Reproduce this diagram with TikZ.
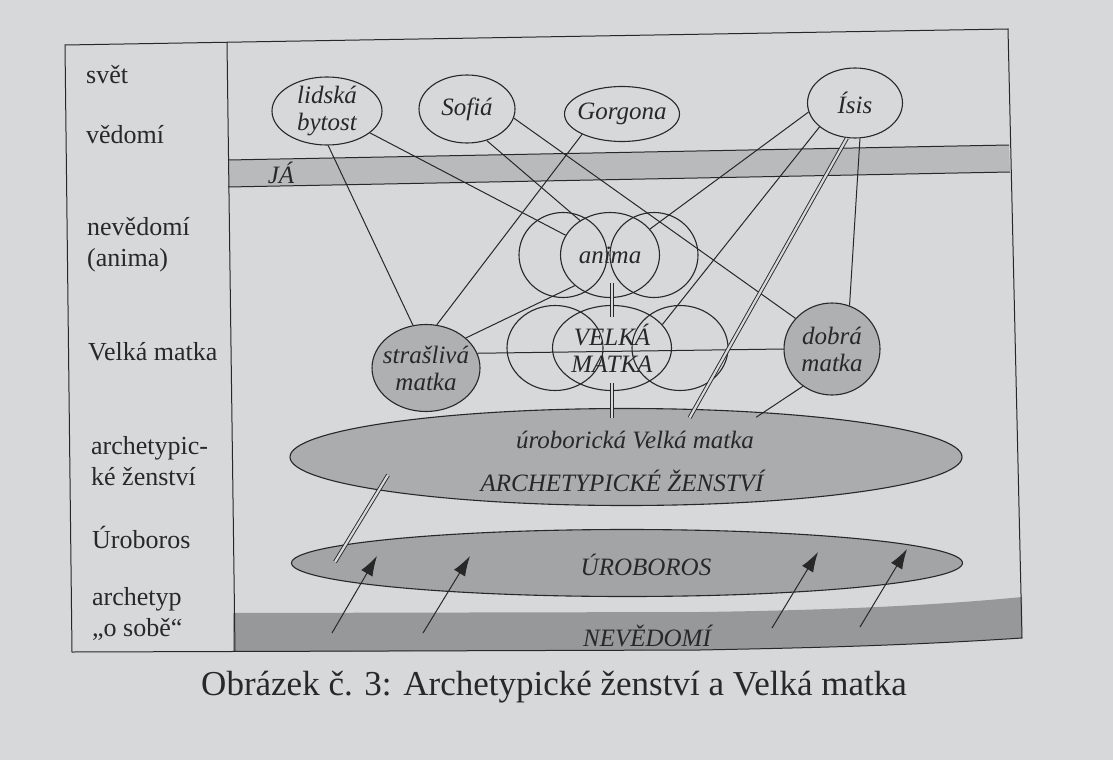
\documentclass[tikz,border=0pt]{standalone}
\usepackage{fontspec}
\setmainfont{Liberation Serif}
\usepackage{tikz}
\usetikzlibrary{shapes.geometric}
\usetikzlibrary{arrows.meta}
\definecolor{paper}{RGB}{214,216,217}
\definecolor{ink}{RGB}{40,40,40}
\definecolor{jaband}{RGB}{184,186,187}
\definecolor{mother}{RGB}{174,176,177}
\definecolor{archfill}{RGB}{170,172,173}
\definecolor{urofill}{RGB}{162,164,165}
\definecolor{deepfill}{RGB}{150,152,153}
\tikzstyle{every node}=[inner sep=0pt, text=ink]
\tikzstyle{ell}=[ellipse, draw=ink, line width=1.1pt]
\tikzstyle{side}=[anchor=west, align=left, font=\fontsize{26}{31}\selectfont]
\tikzstyle{lab}=[align=center, font=\fontsize{25}{27}\selectfont\itshape]
\tikzstyle{conn}=[draw=ink, line width=1pt]
\tikzstyle{dbl}=[draw=ink, line width=0.9pt, double=paper, double distance=2.2pt]
\tikzstyle{arr}=[draw=ink, line width=1pt, -{Latex[length=20pt,width=13pt]}]

\begin{document}
\begin{tikzpicture}[x=1pt,y=-1pt]
  \useasboundingbox (0,0) rectangle (1113,760);
  \fill[paper] (0,0) rectangle (1113,760);
  % bands
  \fill[jaband] (228,160) -- (1009,145) -- (1010,172) -- (228,187) -- cycle;
  \draw[conn] (228,160) -- (1009,145) (228,187) -- (1010,172);
  \fill[deepfill] (233,613) -- (700,612) .. controls (850,610) and (950,604) .. (1022,597)
    -- (1022,638) .. controls (900,646) and (800,648) .. (700,650) -- (233,652) -- cycle;
  % frame
  \draw[conn] (65,45) -- (1008,29) -- (1022,638) .. controls (900,646) and (800,648) .. (700,650)
    -- (72,652) -- cycle;
  \draw[conn] (227,42) -- (235,651);
  \node[lab] (ja) at (281,173) {JÁ};

  % left column
  \node[side] (svet) at (86,75) {svět};
  \node[side] (vedomi) at (86,135) {vědomí};
  \node[side] (nevedomi) at (87,245) {nevědomí\\(anima)};
  \node[side] (velkamatka) at (88,352) {Velká matka};
  \node[side] (zenstvi) at (91,461) {archetypic-\\ké ženství};
  \node[side] (urob) at (92,537) {Úroboros};
  \node[side] (archetyp) at (92,614) {archetyp\\„o sobě“};

  % big ellipses
  \node[ell, fill=archfill, minimum width=672, minimum height=97] (archet) at (626,457) {};
  \node[ell, fill=urofill, minimum width=671, minimum height=67] (uroboros) at (627,563) {};
  \node[lab] (urobvelka) at (635,440) {úroborická Velká matka};
  \node[lab] (archzen) at (622,481) {ARCHETYPICKÉ ŽENSTVÍ};
  \node[lab] (uroblab) at (646,565) {ÚROBOROS};
  \node[lab] (nevlab) at (647,636) {NEVĚDOMÍ};

  % upper ellipses
  \node[ell, minimum width=110, minimum height=68, label={[lab]center:lidská\\bytost}] (lidska) at (327,111) {};
  \node[ell, minimum width=96, minimum height=68, label={[lab]center:Sofiá}] (sofia) at (467,109) {};
  \node[ell, minimum width=115, minimum height=55, label={[lab]center:Gorgona}] (gorgona) at (622,114) {};
  \node[ell, minimum width=95, minimum height=70, label={[lab]center:Ísis}] (isis) at (855,103) {};

  \node[ell, minimum width=88, minimum height=85] (animaL) at (563,255) {};
  \node[ell, minimum width=88, minimum height=85] (animaR) at (654,255) {};
  \node[ell, minimum width=99, minimum height=85, label={[lab]center:anima}] (anima) at (610,255) {};

  \node[ell, minimum width=96, minimum height=85] (velkaL) at (555,348) {};
  \node[ell, minimum width=96, minimum height=85] (velkaR) at (680,348) {};
  \node[ell, minimum width=119, minimum height=85, label={[lab]center:VELKÁ\\MATKA}] (velka) at (612,348) {};

  \node[ell, fill=mother, minimum width=108, minimum height=87, label={[lab]center:strašlivá\\matka}] (strasliva) at (426,368) {};
  \node[ell, fill=mother, minimum width=96, minimum height=92, label={[lab]center:dobrá\\matka}] (dobra) at (832,349) {};

  % connectors
  \draw[conn] (lidska.-88) -- (strasliva.107);
  \draw[conn] (lidska.-27) -- (anima.156);
  \draw[conn] (sofia.-58) -- (anima.131);
  \draw[conn] (sofia.-11) -- (dobra.140);
  \draw[conn] (gorgona.-153) -- (strasliva.76);
  \draw[conn] (isis.-169) -- (anima.33);
  \draw[conn] (isis.-146) -- (velka.25);
  \draw[conn] (isis.-82) -- (dobra.68);
  \draw[conn, shorten >=-9pt] (dobra.-128) -- (archet.18);
  \draw[conn] (strasliva.37) -- (anima.-139);
  \draw[conn] (strasliva.16) -- (dobra.180);
  \draw[dbl, shorten >=-10pt] (isis.-103) -- (archet.35);
  \draw[dbl, shorten <=-15pt, shorten >=-12pt] (velka.north |- anima.south) -- (velka.north);
  \draw[dbl, shorten <=-8pt, shorten >=-10pt] (velka.south) -- (velka.south |- archet.north);
  \coordinate (a1) at (388,475);
  \coordinate (u1) at (335,562);
  \draw[dbl] (a1) -- (u1);

  % arrows from the unconscious
  \foreach \i/\xa/\ya/\xb/\yb in {1/332/633/377/556, 2/423/633/470/556,
                                  3/772/628/818/552, 4/860/627/907/549}{
    \coordinate (s\i) at (\xa,\ya);
    \coordinate (t\i) at (\xb,\yb);
    \draw[arr] (s\i) -- (t\i);
  }

  \node[font=\fontsize{35}{40}\selectfont] (caption) at (554,687)
    {Obrázek č. 3: Archetypické ženství a Velká matka};
\end{tikzpicture}
\end{document}
